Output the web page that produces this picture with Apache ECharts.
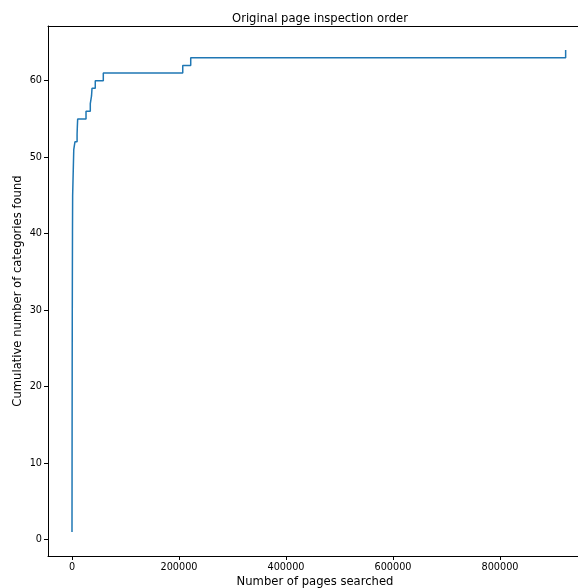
<!DOCTYPE html>
<html>
<head>
<meta charset="utf-8">
<script src="https://cdn.jsdelivr.net/npm/echarts@6/dist/echarts.min.js"></script>
<style>
html,body{margin:0;padding:0;background:#fff;}
#chart{width:578px;height:588px;}
</style>
</head>
<body>
<div id="chart"></div>
<script>
// Data (step where count becomes y at page x)
const pagesSearched = [0, 100, 200, 350, 500, 700, 900, 1200, 1900, 2600, 3300, 5500, 9500, 10000, 10600, 26200, 34200, 36500, 37400, 43500, 58500, 207000, 221900, 922700];
const categoriesFound = [1, 8, 15, 22, 29, 35, 40, 45, 47, 49, 51, 52, 53, 54, 55, 56, 57, 58, 59, 60, 61, 62, 63, 64];
const xTicks = [0, 200000, 400000, 600000, 800000];
const yTicks = [0, 10, 20, 30, 40, 50, 60];

const seriesData = pagesSearched.map((x, i) => [x, categoriesFound[i]]);

const chart = echarts.init(document.getElementById('chart'), null, {renderer: 'canvas'});
const font = 'DejaVu Sans';
chart.setOption({
  animation: false,
  backgroundColor: '#ffffff',
  title: {
    text: 'Original page inspection order',
    left: 315, top: 8, textAlign: 'center',
    textStyle: {fontFamily: font, fontSize: 11.6, fontWeight: 'normal', color: '#000'}
  },
  grid: {left: 48, right: 0, top: 26, bottom: 32, containLabel: false, outerBoundsMode: 'none'},
  xAxis: [{
    type: 'value',
    min: -44860, max: 945800,
    position: 'bottom',
    name: 'Number of pages searched',
    nameLocation: 'middle',
    nameGap: 20,
    nameMoveOverlap: false,
    nameTextStyle: {fontFamily: font, fontSize: 11.6, color: '#000', padding: [0, 0, 0, 4]},
    axisLine: {show: true, onZero: false, lineStyle: {color: '#000', width: 1}},
    axisTick: {show: true, length: 4, inside: false, customValues: xTicks, lineStyle: {color: '#000', width: 1}},
    axisLabel: {customValues: xTicks, formatter: v => String(v), fontFamily: font, fontSize: 9.7, color: '#000', margin: 6},
    splitLine: {show: false}
  }, {
    type: 'value',
    min: -44860, max: 945800,
    position: 'top',
    axisLine: {show: true, onZero: false, lineStyle: {color: '#000', width: 1}},
    axisTick: {show: false}, axisLabel: {show: false}, splitLine: {show: false}
  }],
  yAxis: [{
    type: 'value',
    min: -2.15, max: 67.15,
    position: 'left',
    name: 'Cumulative number of categories found',
    nameLocation: 'middle',
    nameGap: 24,
    nameMoveOverlap: false,
    nameTextStyle: {fontFamily: font, fontSize: 11.6, color: '#000'},
    axisLine: {show: true, onZero: false, lineStyle: {color: '#000', width: 1}},
    axisTick: {show: true, length: 4, customValues: yTicks, lineStyle: {color: '#000', width: 1}},
    axisLabel: {customValues: yTicks, formatter: v => String(v), fontFamily: font, fontSize: 9.7, color: '#000', margin: 6},
    splitLine: {show: false}
  }],
  series: [{
    type: 'line',
    step: 'end',
    data: seriesData,
    showSymbol: false,
    symbol: 'none',
    lineStyle: {color: '#1f77b4', width: 1.5},
    clip: true
  }]
});
</script>
</body>
</html>
